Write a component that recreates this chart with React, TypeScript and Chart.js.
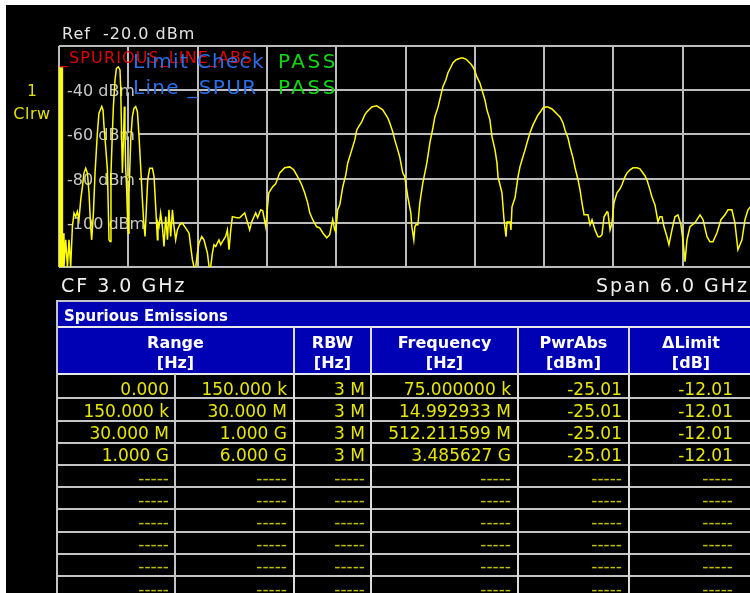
import React, { useEffect, useRef } from "react";
import { Chart, registerables } from "chart.js";

Chart.register(...registerables);

// ---- Trace data (frequency in MHz, level in dBm) ----
const freqMHz = [
  0, 3, 6, 9, 12, 15, 18, 21, 24, 27, 29, 30,
  35, 43, 58, 73, 87, 101, 116, 130, 145, 159, 173, 188, 203, 216, 231, 246, 260, 274, 283, 298,
  312, 332, 346, 370, 381, 390, 404, 419, 433, 442, 450, 462, 471, 485, 497, 514, 528, 534, 543,
  549, 558, 566, 571, 577, 586, 592, 601, 606, 621, 635, 649, 664, 679, 693, 707, 722, 733, 745,
  757, 768, 785, 809, 823, 837, 852, 857, 866, 880, 895, 909, 924, 939, 952, 967, 982, 996, 1010,
  1025, 1045, 1068, 1097, 1126, 1140, 1155, 1169, 1184, 1198, 1212, 1236, 1255, 1270, 1285, 1299,
  1313, 1328, 1342, 1357, 1385, 1400, 1415, 1443, 1458, 1472, 1487, 1501, 1539, 1564, 1608, 1651,
  1668, 1703, 1720, 1746, 1764, 1790, 1816, 1850, 1876, 1911, 1954, 1998, 2032, 2067, 2101, 2127,
  2153, 2171, 2197, 2231, 2257, 2283, 2318, 2344, 2370, 2387, 2396, 2413, 2431, 2457, 2483, 2500,
  2535, 2561, 2578, 2604, 2621, 2647, 2665, 2708, 2751, 2803, 2846, 2864, 2890, 2907, 2933, 2950,
  2976, 2994, 3020, 3046, 3055, 3072, 3081, 3090, 3107, 3124, 3150, 3185, 3211, 3237, 3254, 3280,
  3297, 3323, 3349, 3367, 3393, 3410, 3436, 3454, 3480, 3497, 3523, 3540, 3566, 3584, 3601, 3618,
  3644, 3662, 3688, 3705, 3731, 3749, 3775, 3792, 3801, 3818, 3835, 3853, 3870, 3879, 3887, 3905,
  3913, 3922, 3948, 3974, 3991, 4009, 4035, 4052, 4078, 4104, 4130, 4147, 4173, 4190, 4216, 4234,
  4268, 4294, 4320, 4338, 4364, 4381, 4407, 4424, 4450, 4468, 4494, 4511, 4528, 4546, 4563, 4580,
  4598, 4615, 4641, 4667, 4684, 4701, 4719, 4745, 4753, 4771, 4788, 4805, 4831, 4857, 4874, 4900,
  4918, 4944, 4970, 5004, 5030, 5048, 5074, 5091, 5117, 5134, 5160, 5186, 5203, 5221, 5238, 5264,
  5281, 5307, 5333, 5359, 5385, 5402, 5420, 5437, 5463, 5506, 5550, 5576, 5610, 5636, 5662, 5697,
  5731, 5766, 5792, 5826, 5852, 5878, 5913, 5939, 5965, 6000,
];

const levelDbm = [
  -29.6, -120, -29.6, -120, -29.6, -120, -29.6, -120, -29.6, -120, -29.6, -120,
  -104.7, -120, -107.7, -120, -107.7, -120, -101.7, -95.6, -97.2, -94.9, -98.6, -89.6, -83.6, -77.5, -75.3, -77.5, -86.6, -101.7, -107.7, -95.6,
  -77.5, -59.5, -50.4, -47.4, -48.9, -56.5, -65.5, -76.0, -107.7, -108.5, -77.5, -59.5, -47.4, -35.4, -30.1, -29.4, -30.8, -38.4, -62.5,
  -77.5, -62.5, -47.4, -58.0, -74.6, -85.1, -95.6, -104.7, -86.6, -62.5, -52.0, -48.2, -47.4, -49.7, -61.0, -74.6, -89.6, -99.4, -106.2,
  -92.6, -80.6, -75.3, -75.3, -79.1, -92.6, -107.7, -100.1, -101.7, -95.6, -101.7, -110.7, -97.2, -107.7, -94.1, -106.2, -94.1, -101.7, -107.7,
  -103.2, -100.9, -100.1, -102.4, -104.7, -110.7, -116.7, -120, -120, -113.7, -109.2, -106.2, -107.7, -110.7, -113.7, -119.7,
  -120, -113.7, -109.9, -110.7, -107.7, -109.9, -108.5, -106.2, -103.2, -112.2, -103.2, -97.2, -97.7, -97.7, -95.5, -103.2,
  -99.6, -95.5, -97.7, -94.1, -94.6, -101.8, -86.5, -83.7, -82.4, -77.4, -75.1, -74.7, -76.0, -79.2, -82.8, -86.4,
  -91.0, -95.5, -98.6, -101.8, -102.3, -104.5, -106.8, -105.4, -98.6, -103.2, -104.1, -94.1, -91.9, -83.7, -78.3, -72.9,
  -67.0, -62.5, -58.0, -55.7, -54.3, -51.2, -49.8, -47.6, -47.1, -48.9, -52.5, -54.8, -58.9, -62.5, -67.0, -70.2,
  -77.4, -79.2, -88.3, -95.5, -101.8, -107.7, -101.8, -100.9, -100.9, -91.0, -81.9, -72.9, -63.8, -57.1, -52.1, -48.0,
  -44.4, -38.5, -35.4, -32.2, -29.5, -27.7, -26.3, -25.9, -25.4, -25.4, -25.9, -26.8, -28.1, -29.5, -31.3, -34.0,
  -36.7, -39.9, -44.4, -48.9, -53.4, -61.1, -67.0, -72.9, -79.2, -82.8, -86.4, -98.6, -106.3, -99.6, -99.6, -99.6,
  -103.2, -92.8, -88.7, -79.2, -74.7, -71.5, -67.0, -63.8, -59.3, -55.7, -53.0, -51.2, -49.4, -48.0, -47.6, -47.6,
  -48.5, -49.8, -51.2, -52.1, -54.8, -58.0, -61.6, -65.6, -70.6, -75.1, -80.6, -85.1, -91.0, -96.4, -96.4, -96.4,
  -100.9, -98.6, -103.2, -106.3, -106.3, -105.4, -97.3, -95.0, -95.5, -103.2, -100.0, -91.0, -86.4, -84.6, -82.8, -79.2,
  -77.4, -76.0, -75.1, -75.1, -75.6, -76.9, -78.8, -80.6, -85.1, -88.3, -91.9, -99.6, -97.3, -97.3, -101.8, -106.3,
  -109.9, -103.2, -97.3, -96.4, -100.9, -107.7, -117.6, -107.7, -101.8, -100.0, -96.4, -98.6, -106.3, -108.6, -108.6, -104.5,
  -98.6, -96.4, -94.1, -94.1, -100.0, -112.2, -107.7, -98.6, -94.1, -91.9,
];

// ---- Axis ----
const yTickValues = [-40, -60, -80, -100];
const yTickLabels = ["-40 dBm", "-60 dBm", "-80 dBm", "-100 dBm"];

// ---- Table ----
const rangeStart = ["0.000", "150.000 k", "30.000 M", "1.000 G"];
const rangeStop = ["150.000 k", "30.000 M", "1.000 G", "6.000 G"];
const rbwValues = ["3 M", "3 M", "3 M", "3 M"];
const peakFreq = ["75.000000 k", "14.992933 M", "512.211599 M", "3.485627 G"];
const pwrAbs = ["-25.01", "-25.01", "-25.01", "-25.01"];
const deltaLimit = ["-12.01", "-12.01", "-12.01", "-12.01"];
const headerTop = ["Range", "RBW", "Frequency", "PwrAbs", "\u0394Limit"];
const headerBottom = ["[Hz]", "[Hz]", "[Hz]", "[dBm]", "[dB]"];
const totalRows = 10;

const FONT = '"DejaVu Sans", sans-serif';
const COLS = [57, 175, 294, 371, 518, 629, 753];
const PADS = [6, 7, 6, 7, 7, 20];
const LINE = "#c4c4c4";

const labelPlugin = {
  id: "dbmLabels",
  beforeDatasetsDraw(chart: any) {
    const { ctx, chartArea, scales } = chart;
    const y = scales.y;
    ctx.save();
    ctx.font = `16px ${FONT}`;
    ctx.textBaseline = "alphabetic";
    yTickValues.forEach((v, i) => {
      const py = y.getPixelForValue(v);
      const text = yTickLabels[i];
      const w = ctx.measureText(text).width;
      ctx.fillStyle = "#000";
      ctx.fillRect(chartArea.left + 2, py - 2, w + 10, 4);
      ctx.fillStyle = "#c8c8c8";
      ctx.fillText(text, chartArea.left + 8, py + 6);
    });
    ctx.restore();
  },
};

function Txt(props: {
  x: number; y: number; size: number; color: string; text: string;
  spacing?: number; bold?: boolean; w?: number; align?: "left" | "right" | "center";
}) {
  const { x, y, size, color, text, spacing = 0, bold = false, w, align = "left" } = props;
  return (
    <div
      style={{
        position: "absolute", left: x, top: y, width: w, fontFamily: FONT,
        fontSize: size, lineHeight: `${size}px`, color, letterSpacing: spacing,
        fontWeight: bold ? "bold" : "normal", whiteSpace: "pre", textAlign: align,
      }}
    >
      {text}
    </div>
  );
}

export default function App() {
  const ref = useRef<HTMLCanvasElement | null>(null);

  useEffect(() => {
    if (!ref.current) return;
    const points = freqMHz.map((f, i) => ({ x: f, y: levelDbm[i] }));
    const gridOpts = { color: "#bcbcbc", lineWidth: 2, drawTicks: false };
    const chart = new Chart(ref.current, {
      type: "line",
      data: {
        datasets: [
          {
            data: points,
            borderColor: "#ffff00",
            borderWidth: 1.5,
            pointRadius: 0,
            fill: false,
            tension: 0,
          },
        ],
      },
      options: {
        responsive: false,
        devicePixelRatio: 1,
        animation: false,
        events: [],
        layout: { padding: { left: 59, top: 46, right: 8, bottom: 33 } },
        plugins: { legend: { display: false }, tooltip: { enabled: false } },
        scales: {
          x: {
            type: "linear", min: 0, max: 6000,
            ticks: { display: false, stepSize: 600 },
            grid: gridOpts, border: { display: false },
          },
          y: {
            type: "linear", min: -120, max: -20,
            ticks: { display: false, stepSize: 20 },
            grid: gridOpts, border: { display: false },
          },
        },
      },
      plugins: [labelPlugin],
    } as any);
    return () => chart.destroy();
  }, []);

  const rowLine = (k: number) => 398.3 + 22.2 * k;
  const cells: any[] = [];
  const lines: any[] = [];

  // horizontal lines
  lines.push(<div key="h-top" style={{ position: "absolute", left: 57, top: 300, width: 700, height: 2, background: LINE }} />);
  lines.push(<div key="h-title" style={{ position: "absolute", left: 57, top: 326, width: 700, height: 2, background: "#e8e8e8" }} />);
  lines.push(<div key="h-head" style={{ position: "absolute", left: 57, top: 373, width: 700, height: 2, background: "#e8e8e8" }} />);
  for (let k = 0; k < totalRows; k++) {
    lines.push(<div key={"h" + k} style={{ position: "absolute", left: 57, top: Math.round(rowLine(k) - 1), width: 700, height: 2, background: LINE }} />);
  }
  // vertical lines
  lines.push(<div key="v-left" style={{ position: "absolute", left: 56, top: 300, width: 2, height: 300, background: LINE }} />);
  [294, 371, 518, 629].forEach((x) =>
    lines.push(<div key={"v" + x} style={{ position: "absolute", left: x - 1, top: 327, width: 2, height: 280, background: x === 294 || x === 371 || x === 518 || x === 629 ? "#dcdcdc" : LINE }} />)
  );
  lines.push(<div key="v175" style={{ position: "absolute", left: 174, top: 374, width: 2, height: 230, background: LINE }} />);

  for (let r = 0; r < totalRows; r++) {
    const top = rowLine(r) - 17.6;
    const has = r < rangeStart.length;
    const vals = has
      ? [rangeStart[r], rangeStop[r], rbwValues[r], peakFreq[r], pwrAbs[r], deltaLimit[r]]
      : ["-----", "-----", "-----", "-----", "-----", "-----"];
    vals.forEach((v, c) => {
      cells.push(
        <Txt key={`c${r}-${c}`} x={COLS[c]} y={top} w={COLS[c + 1] - COLS[c] - PADS[c]}
          size={17} color={has ? "#e6e600" : "#c0c000"} text={v} align="right" />
      );
    });
  }

  const headerSpans = [[57, 294], [294, 371], [371, 518], [518, 629], [629, 753]];
  const headers = headerSpans.map(([a, b], i) => (
    <React.Fragment key={"hd" + i}>
      <Txt x={a} y={334.5} w={b - a} size={16} bold color="#ffffff" text={headerTop[i]} align="center" />
      <Txt x={a} y={354.5} w={b - a} size={16} bold color="#ffffff" text={headerBottom[i]} align="center" />
    </React.Fragment>
  ));

  return (
    <div style={{ position: "fixed", left: 0, top: 0, width: 750, height: 593, background: "#ffffff", overflow: "hidden" }}>
      <div style={{ position: "absolute", left: 6, top: 5, width: 760, height: 600, background: "#000000" }} />
      <canvas ref={ref} width={760} height={300} style={{ position: "absolute", left: 0, top: 0, width: 760, height: 300 }} />

      <Txt x={62} y={26} size={16} spacing={1} color="#e4e4e4" text={"Ref  -20.0 dBm"} />
      <Txt x={12} y={84} w={40} size={15} color="#e0e000" text="1" align="center" />
      <Txt x={11} y={105.5} w={42} size={16} spacing={0.5} color="#e0e000" text="Clrw" align="center" />

      <Txt x={60} y={49.8} size={16} spacing={1.1} color="#e00000" text="_SPURIOUS_LINE_ABS" />
      <Txt x={133} y={51.4} size={20} spacing={1.3} color="#2a6ee8" text="Limit Check" />
      <Txt x={278} y={51.4} size={20} spacing={2.5} color="#10d810" text="PASS" />
      <div style={{ position: "absolute", left: 133, top: 77.1, width: 135, overflow: "hidden", height: 24 }}>
        <Txt x={0} y={0} size={20} spacing={1.3} color="#2a6ee8" text="Line _SPUR" />
      </div>
      <Txt x={278} y={77.1} size={20} spacing={2.5} color="#10d810" text="PASS" />

      <Txt x={61} y={276.2} size={19} spacing={2} color="#f0f0f0" text="CF 3.0 GHz" />
      <Txt x={596} y={276.2} size={19} spacing={2} color="#f0f0f0" text="Span 6.0 GHz" />

      <div style={{ position: "absolute", left: 57, top: 301, width: 700, height: 26, background: "#0000b4" }} />
      <div style={{ position: "absolute", left: 57, top: 327, width: 700, height: 47, background: "#0000b4" }} />
      <Txt x={64} y={309.3} size={15} bold color="#ffffff" text="Spurious Emissions" />
      {headers}
      {lines}
      {cells}
    </div>
  );
}
